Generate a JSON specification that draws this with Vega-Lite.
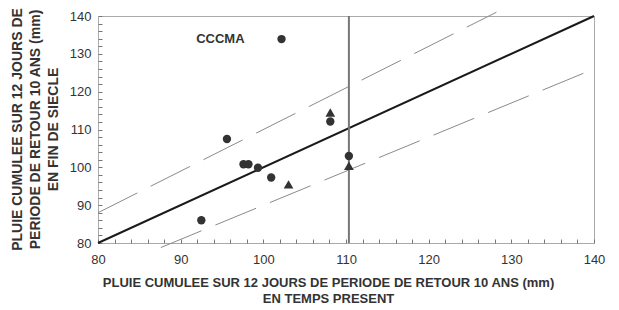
{
  "$schema": "https://vega.github.io/schema/vega-lite/v6.json",
  "width": 496,
  "height": 227,
  "autosize": "none",
  "padding": {"left": 98, "top": 16, "right": 25, "bottom": 67},
  "config": {
    "font": "Liberation Sans",
    "view": {"stroke": "#aaaaaa", "strokeWidth": 1}
  },
  "datasets": {
    "points": [
      {"x": 102.2, "y": 133.9, "shape": "circle"},
      {"x": 95.6, "y": 107.5, "shape": "circle"},
      {"x": 97.6, "y": 100.8, "shape": "circle"},
      {"x": 98.2, "y": 100.8, "shape": "circle"},
      {"x": 99.35, "y": 99.9, "shape": "circle"},
      {"x": 100.95, "y": 97.3, "shape": "circle"},
      {"x": 92.5, "y": 86.0, "shape": "circle"},
      {"x": 108.1, "y": 112.1, "shape": "circle"},
      {"x": 110.35, "y": 103.0, "shape": "circle"},
      {"x": 103.05, "y": 95.5, "shape": "triangle-up"},
      {"x": 108.1, "y": 114.5, "shape": "triangle-up"},
      {"x": 110.35, "y": 100.4, "shape": "triangle-up"}
    ],
    "lines": [
      {"line": "egal", "x": 80, "y": 80},
      {"line": "egal", "x": 140, "y": 140},
      {"line": "plus10", "x": 80, "y": 88},
      {"line": "plus10", "x": 128.2, "y": 141},
      {"line": "moins10", "x": 87.6, "y": 78.8},
      {"line": "moins10", "x": 139.1, "y": 125.2}
    ],
    "vline": [{"x": 110.35, "y": 80, "y2": 140}],
    "label": [{"x": 94.8, "y": 133.9, "text": "CCCMA"}]
  },
  "encoding": {
    "x": {
      "field": "x", "type": "quantitative",
      "scale": {"domain": [80, 140], "nice": false, "zero": false},
      "axis": {
        "grid": false,
        "domain": false,
        "values": [80,82,84,86,88,90,92,94,96,98,100,102,104,106,108,110,112,114,116,118,120,122,124,126,128,130,132,134,136,138,140],
        "labelExpr": "datum.value % 10 === 0 ? datum.label : ''",
        "labelOverlap": false,
        "labelFlush": false,
        "labelPadding": 14,
        "labelFontSize": 13,
        "labelColor": "#333333",
        "ticks": true,
        "tickColor": "#777777",
        "tickOpacity": 1,
        "tickWidth": 1,
        "tickSize": -4,
        "title": ["PLUIE CUMULEE SUR 12 JOURS DE PERIODE DE RETOUR 10 ANS (mm)", "EN TEMPS PRESENT"],
        "titleFontSize": 13,
        "titleFontWeight": "bold",
        "titleColor": "#333333",
        "titleLineHeight": 16,
        "titleX": 230,
        "titleY": 33,
        "titleBaseline": "top",
        "titleAlign": "center"
      }
    },
    "y": {
      "field": "y", "type": "quantitative",
      "scale": {"domain": [80, 140], "nice": false, "zero": false},
      "axis": {
        "grid": false,
        "domain": false,
        "values": [80,82,84,86,88,90,92,94,96,98,100,102,104,106,108,110,112,114,116,118,120,122,124,126,128,130,132,134,136,138,140],
        "labelExpr": "datum.value % 10 === 0 ? datum.label : ''",
        "labelOverlap": false,
        "labelFlush": false,
        "labelPadding": 11,
        "labelFontSize": 13,
        "labelColor": "#333333",
        "ticks": true,
        "tickColor": "#777777",
        "tickOpacity": 1,
        "tickWidth": 1,
        "tickSize": -4,
        "title": ["PLUIE CUMULEE SUR 12 JOURS DE", "PERIODE DE RETOUR 10 ANS (mm)", "EN FIN DE SIECLE"],
        "titleFontSize": 14,
        "titleFontWeight": "bold",
        "titleColor": "#333333",
        "titleLineHeight": 18,
        "titleX": -81,
        "titleY": 113,
        "titleBaseline": "middle",
        "titleAlign": "center",
        "titleAngle": -90
      }
    }
  },
  "layer": [
    {
      "data": {"name": "lines"},
      "transform": [{"filter": "datum.line !== 'egal'"}],
      "mark": {"type": "line", "color": "#8a8a8a", "strokeWidth": 1, "strokeDash": [44, 15], "clip": false},
      "encoding": {"detail": {"field": "line"}}
    },
    {
      "data": {"name": "lines"},
      "transform": [{"filter": "datum.line === 'egal'"}],
      "mark": {"type": "line", "color": "#1a1a1a", "strokeWidth": 2},
      "encoding": {}
    },
    {
      "data": {"name": "vline"},
      "mark": {"type": "rule", "color": "#777777", "strokeWidth": 2},
      "encoding": {"y2": {"field": "y2"}}
    },
    {
      "data": {"name": "points"},
      "mark": {"type": "point", "filled": true, "opacity": 1, "color": "#333333"},
      "encoding": {
        "shape": {"field": "shape", "type": "nominal", "scale": {"domain": ["circle", "triangle-up"], "range": ["circle", "triangle-up"]}, "legend": null},
        "size": {"field": "shape", "type": "nominal", "scale": {"domain": ["circle", "triangle-up"], "range": [70, 95]}, "legend": null}
      }
    },
    {
      "data": {"name": "label"},
      "mark": {"type": "text", "font": "Liberation Sans", "fontWeight": "bold", "fontSize": 13, "color": "#333333", "align": "center", "baseline": "middle"},
      "encoding": {"text": {"field": "text"}}
    }
  ]
}
